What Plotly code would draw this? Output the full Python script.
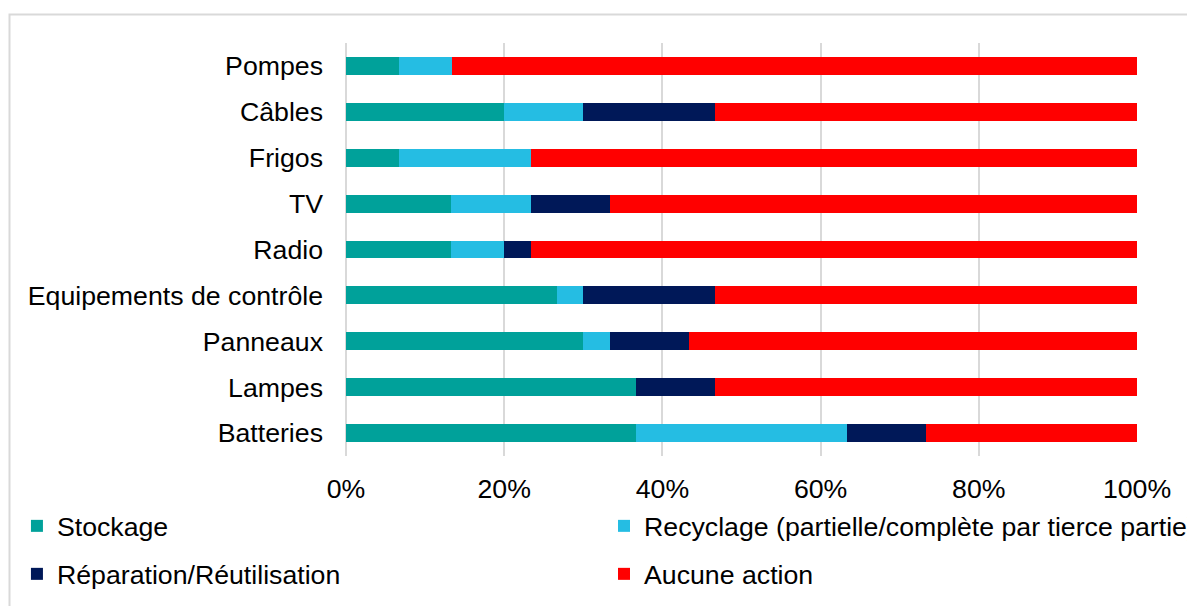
import plotly.graph_objects as go

# Equipment categories, listed top to bottom
categories = ["Pompes", "Câbles", "Frigos", "TV", "Radio",
              "Equipements de contrôle", "Panneaux", "Lampes", "Batteries"]

# Share of respondents per end-of-life practice (fraction of 1)
stockage =   [0.0667, 0.2000, 0.0667, 0.1333, 0.1333, 0.2667, 0.3000, 0.3667, 0.3667]
recyclage =  [0.0667, 0.1000, 0.1667, 0.1000, 0.0667, 0.0333, 0.0333, 0.0000, 0.2667]
reparation = [0.0000, 0.1667, 0.0000, 0.1000, 0.0333, 0.1667, 0.1000, 0.1000, 0.1000]
aucune =     [0.8667, 0.5333, 0.7667, 0.6667, 0.7667, 0.5333, 0.5667, 0.5333, 0.2667]

x_ticks = [0, 0.2, 0.4, 0.6, 0.8, 1.0]

series = [
    ("Stockage", stockage, "#00A19A"),
    ("Recyclage (partielle/complète par tierce partie)", recyclage, "#25BDE3"),
    ("Réparation/Réutilisation", reparation, "#001858"),
    ("Aucune action", aucune, "#FF0000"),
]

FONT = "Liberation Sans, Arial, sans-serif"
FS = 26.7

# Each legend entry gets its own legend box so the 2x2 grid can be placed freely
legend_ids = ["legend", "legend2", "legend3", "legend4"]
legend_pos = [(-0.416, -0.1695), (0.3262, -0.1695),
              (-0.416, -0.2857), (0.3262, -0.2857)]

fig = go.Figure()
for (name, vals, color), leg in zip(series, legend_ids):
    fig.add_trace(go.Bar(
        y=categories, x=vals, name=name, orientation="h",
        marker=dict(color=color, line=dict(width=0)),
        width=0.39, legend=leg, showlegend=True,
    ))

legend_layout = {}
for leg, (lx, ly) in zip(legend_ids, legend_pos):
    legend_layout[leg] = dict(
        x=lx, y=ly, orientation="h", xanchor="left", yanchor="middle",
        traceorder="normal",
        font=dict(family=FONT, size=FS, color="#000000"),
        bgcolor="rgba(0,0,0,0)", itemclick=False, itemdoubleclick=False,
    )

fig.update_layout(
    width=1187, height=606,
    barmode="stack",
    showlegend=True,
    plot_bgcolor="white", paper_bgcolor="white",
    margin=dict(l=346, r=50, t=43, b=150, autoexpand=False),
    font=dict(family=FONT, size=FS, color="#000000"),
    bargap=0,
    xaxis=dict(
        range=[0, 1], tickvals=x_ticks, tickformat=".0%",
        showgrid=True, gridcolor="#D9D9D9", gridwidth=2,
        zeroline=True, zerolinecolor="#D9D9D9", zerolinewidth=2,
        showline=False, ticks="",
        ticklabelstandoff=14,
        tickfont=dict(family=FONT, size=FS, color="#000000"),
    ),
    yaxis=dict(
        autorange="reversed", showgrid=False, zeroline=False,
        showline=False, ticks="", ticklabelstandoff=22,
        tickfont=dict(family=FONT, size=FS, color="#000000"),
    ),
    shapes=[dict(
        type="rect", xref="paper", yref="paper",
        x0=-0.4254, x1=1.2, y0=-0.6, y1=1.069,
        line=dict(color="#D9D9D9", width=2), fillcolor="rgba(0,0,0,0)",
        layer="below",
    )],
    **legend_layout,
)

fig.write_html("out.html")
